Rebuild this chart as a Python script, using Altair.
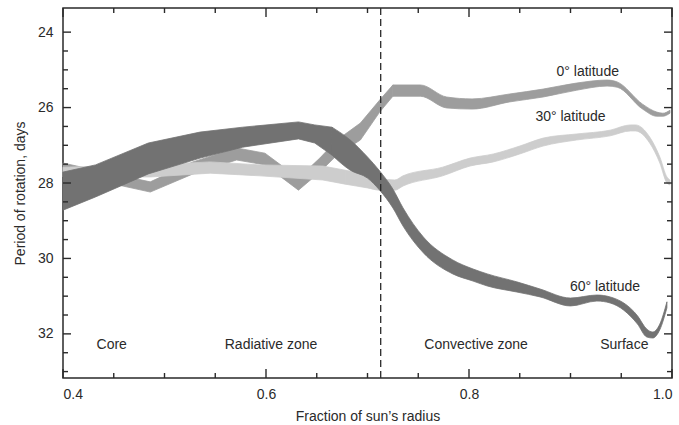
import altair as alt
import pandas as pd

# Solar rotation period vs. depth, drawn as uncertainty bands (top/bottom edge in days)
lat60_r = [0.400, 0.432, 0.484, 0.535, 0.577, 0.632, 0.648, 0.665, 0.683, 0.700,
           0.712, 0.725, 0.735, 0.755, 0.784, 0.804, 0.818, 0.847, 0.870, 0.900,
           0.926, 0.939, 0.966, 0.975, 0.981, 0.988, 0.995]
lat60_top = [27.71, 27.52, 26.94, 26.65, 26.52, 26.38, 26.46, 26.52, 26.86, 27.31,
             27.68, 28.16, 28.66, 29.43, 30.04, 30.28, 30.41, 30.62, 30.81, 31.05,
             30.97, 31.02, 31.52, 31.87, 31.95, 31.74, 31.15]
lat60_bot = [28.72, 28.37, 27.76, 27.34, 27.05, 26.83, 26.94, 27.26, 27.66, 27.87,
             28.19, 28.66, 29.14, 29.85, 30.41, 30.60, 30.73, 30.89, 31.02, 31.26,
             31.13, 31.18, 31.74, 32.08, 32.11, 31.89, 31.31]

lat0_r = [0.400, 0.432, 0.486, 0.528, 0.571, 0.599, 0.632, 0.653, 0.670, 0.693,
          0.712, 0.725, 0.752, 0.778, 0.803, 0.840, 0.873, 0.906, 0.936, 0.946,
          0.971, 0.985, 0.991, 0.998]
lat0_top = [27.47, 27.66, 27.97, 27.44, 27.07, 27.21, 27.87, 27.34, 26.86, 26.41,
            25.80, 25.40, 25.40, 25.72, 25.77, 25.64, 25.51, 25.35, 25.27, 25.32,
            25.91, 26.12, 26.15, 26.07]
lat0_bot = [27.71, 27.92, 28.24, 27.76, 27.39, 27.52, 28.19, 27.71, 27.26, 26.86,
            26.12, 25.70, 25.70, 26.01, 26.04, 25.85, 25.72, 25.54, 25.43, 25.46,
            26.04, 26.23, 26.23, 26.15]

lat30_r = [0.400, 0.486, 0.545, 0.594, 0.656, 0.678, 0.700, 0.712, 0.727, 0.735,
           0.774, 0.801, 0.824, 0.850, 0.873, 0.906, 0.939, 0.959, 0.964, 0.978,
           0.988, 0.995, 0.998]
lat30_top = [27.58, 27.52, 27.44, 27.52, 27.55, 27.66, 27.79, 27.89, 27.92, 27.81,
             27.58, 27.34, 27.23, 27.02, 26.81, 26.70, 26.60, 26.46, 26.46, 26.78,
             27.31, 27.84, 27.92]
lat30_bot = [27.84, 27.84, 27.74, 27.81, 27.92, 28.03, 28.13, 28.19, 28.19, 28.08,
             27.81, 27.55, 27.44, 27.23, 27.02, 26.86, 26.75, 26.62, 26.62, 26.94,
             27.47, 28.00, 28.05]

# Radius where each band switches from straight segments (deep interior)
# to a smooth curve (convective envelope)
smooth_from = {"0": 0.725, "30": 0.678, "60": 0.665}

# Base of the radiative zone / start of the convective zone
tachocline = [0.713]

# Annotations
label_text = ["0\u00b0 latitude", "30\u00b0 latitude", "60\u00b0 latitude",
              "Core", "Radiative zone", "Convective zone", "Surface"]
label_r = [0.917, 0.900, 0.934, 0.448, 0.605, 0.807, 0.953]
label_p = [25.06, 26.25, 30.75, 32.29, 32.29, 32.29, 32.29]

# Tick positions
x_major = [0.4, 0.6, 0.8, 1.0]
x_minor = [0.45, 0.5, 0.55, 0.65, 0.7, 0.75, 0.85, 0.9, 0.95]
y_major = [24, 26, 28, 30, 32]
y_minor = [24.5, 25, 25.5, 26.5, 27, 27.5, 28.5, 29, 29.5, 30.5, 31, 31.5, 32.5, 33]

W, H = 609, 370
FONT = "Liberation Sans"
INK = "#2a2a2a"

xscale = alt.Scale(domain=[0.4, 1.0], nice=False, zero=False)
yscale = alt.Scale(domain=[23.36, 33.17], reverse=True, nice=False, zero=False)
xaxis = alt.Axis(values=x_major, format=".1f", ticks=False, domain=False, grid=False,
                 labelPadding=9, titlePadding=8, title="Fraction of sun\u2019s radius")
yaxis = alt.Axis(values=y_major, format="d", ticks=False, domain=False, grid=False,
                 labelPadding=10, titlePadding=10, title="Period of rotation, days")


def X(field="r"):
    return alt.X(f"{field}:Q", scale=xscale, axis=xaxis, title="Fraction of sun\u2019s radius")


def Y(field="p"):
    return alt.Y(f"{field}:Q", scale=yscale, axis=yaxis, title="Period of rotation, days")


def band(r, top, bot, color, split):
    df = pd.DataFrame({"r": r, "p": top, "p2": bot})
    inner = df[df["r"] <= split]
    outer = df[df["r"] >= split]
    parts = []
    for part, interp in ((inner, "linear"), (outer, "monotone")):
        parts.append(alt.Chart(part).mark_area(
            interpolate=interp, color=color, opacity=1, stroke=color, strokeWidth=0.8
        ).encode(x=X(), y=Y(), y2="p2:Q"))
    return alt.layer(*parts)


band0 = band(lat0_r, lat0_top, lat0_bot, "#9d9d9d", smooth_from["0"])
band30 = band(lat30_r, lat30_top, lat30_bot, "#cdcdcd", smooth_from["30"])
band60 = band(lat60_r, lat60_top, lat60_bot, "#727272", smooth_from["60"])

divider = alt.Chart(pd.DataFrame({"r": tachocline})).mark_rule(
    color=INK, strokeWidth=1.3, strokeDash=[7, 4]).encode(
    x=X(), y=alt.value(0), y2=alt.value(H))

labels = alt.Chart(pd.DataFrame({"r": label_r, "p": label_p, "t": label_text})).mark_text(
    font=FONT, fontSize=14, color=INK, align="center", baseline="middle").encode(
    x=X(), y=Y(), text="t:N")


def xticks(values, length):
    df = pd.DataFrame({"r": values})
    base = alt.Chart(df).mark_rule(color=INK, strokeWidth=1.4)
    bottom = base.encode(x=X(), y=alt.value(H), y2=alt.value(H - length))
    top = base.encode(x=X(), y=alt.value(0), y2=alt.value(length))
    return bottom + top


def yticks(values, length):
    df = pd.DataFrame({"p": values})
    base = alt.Chart(df).mark_rule(color=INK, strokeWidth=1.4)
    left = base.encode(y=Y(), x=alt.value(0), x2=alt.value(length))
    right = base.encode(y=Y(), x=alt.value(W), x2=alt.value(W - length))
    return left + right


chart = alt.layer(
    band0, band30, band60, divider, labels,
    xticks(x_major, 9), xticks(x_minor, 5),
    yticks(y_major, 8), yticks(y_minor, 5),
).properties(
    width=W, height=H,
    padding={"left": 63, "top": 8, "right": 7, "bottom": 47},
    autosize=alt.AutoSizeParams(type="none"),
    background="white",
).configure_view(
    stroke=INK, strokeWidth=1.5
).configure_axis(
    labelFont=FONT, labelFontSize=14, labelColor=INK,
    titleFont=FONT, titleFontSize=14, titleColor=INK, titleFontWeight="normal",
)

chart.save("out.html", embed_options={"renderer": "svg", "actions": False})
